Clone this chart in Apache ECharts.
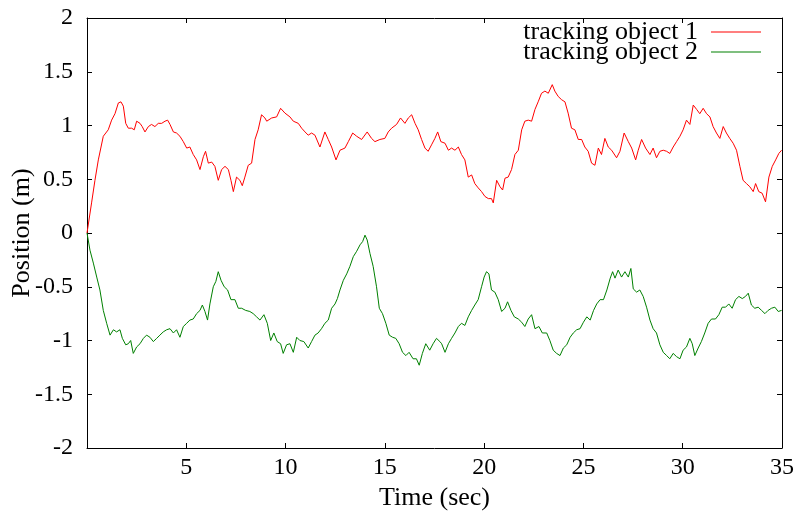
<!DOCTYPE html>
<html>
<head>
<meta charset="utf-8">
<script src="https://cdn.jsdelivr.net/npm/echarts@6/dist/echarts.min.js"></script>
<style>html,body{margin:0;padding:0;background:#fff}#c{width:796px;height:513px}</style>
</head>
<body>
<div id="c"></div>
<script>
var seriesNames = ['tracking object 1', 'tracking object 2'];
var xTicks = [0, 5, 10, 15, 20, 25, 30, 35];
var yTicks = [-2, -1.5, -1, -0.5, 0, 0.5, 1, 1.5, 2];

var time1 = [0,0.23,0.4,0.57,0.82,1.07,1.24,1.41,1.58,1.71,1.83,1.95,2.08,2.25,2.38,2.5,2.67,2.78,2.92,3.09,3.25,3.42,3.59,3.76,3.93,4.06,4.18,4.35,4.51,4.68,4.85,5.02,5.18,5.35,5.52,5.69,5.86,5.97,6.11,6.28,6.44,6.61,6.78,6.95,7.12,7.25,7.37,7.53,7.7,7.82,7.95,8.12,8.29,8.46,8.62,8.79,8.96,
 9.05,9.3,9.55,9.75,9.97,10.22,10.39,10.64,10.81,10.98,11.14,11.31,11.48,11.73,11.98,12.15,12.32,12.54,12.74,12.99,13.16,13.38,13.58,13.83,14.11,14.33,14.5,14.75,15.0,15.17,15.34,15.59,15.79,16.01,16.18,16.35,16.52,16.68,16.85,17.02,17.18,17.35,17.52,17.66,17.82,
 18.03,18.2,18.36,18.53,18.7,18.86,19.03,19.2,19.37,19.53,19.7,19.87,20.04,20.21,20.37,20.46,20.63,20.8,20.93,21.05,21.21,21.38,21.55,21.72,21.89,22.05,22.22,22.39,22.56,22.72,22.89,23.06,23.23,23.43,23.56,23.73,23.9,24.07,24.23,24.4,24.57,24.74,24.91,25.07,25.24,25.41,25.58,25.75,25.91,26.08,
 26.25,26.42,26.67,26.84,27.05,27.26,27.43,27.63,27.76,27.93,28.13,28.35,28.51,28.68,28.85,29.02,29.19,29.35,29.52,29.69,29.86,30.02,30.19,30.36,30.53,30.7,30.86,31.03,31.2,31.37,31.53,31.7,31.87,32.04,32.2,32.37,32.54,32.71,32.88,33.04,33.21,33.38,33.55,33.67,33.83,34.0,34.17,34.34,34.51,34.68,34.84,34.98];
var pos1 = [0,0.28,0.49,0.68,0.9,0.96,1.05,1.11,1.21,1.22,1.18,1.02,0.975,0.975,0.96,1.04,1.02,0.99,0.94,0.99,1.01,0.99,1.02,1.02,1.04,1.05,1.01,0.94,0.93,0.9,0.85,0.79,0.8,0.73,0.68,0.59,0.71,0.76,0.65,0.66,0.62,0.49,0.59,0.62,0.59,0.49,0.385,0.52,0.49,0.44,0.52,0.63,0.65,0.87,0.96,1.1,1.07,
 1.04,1.07,1.08,1.16,1.115,1.08,1.04,1.02,0.975,0.94,0.91,0.93,0.91,0.8,0.94,0.87,0.8,0.68,0.77,0.79,0.85,0.93,0.9,0.87,0.94,0.88,0.85,0.87,0.88,0.94,0.975,1.01,1.07,1.02,1.07,1.1,1.02,0.96,0.87,0.79,0.76,0.82,0.88,0.94,0.85,
 0.835,0.77,0.79,0.77,0.8,0.73,0.68,0.52,0.54,0.46,0.42,0.385,0.34,0.32,0.32,0.28,0.49,0.43,0.4,0.51,0.52,0.59,0.73,0.77,0.96,1.04,1.05,1.04,1.15,1.22,1.3,1.32,1.3,1.38,1.32,1.27,1.24,1.22,1.115,0.975,0.96,0.87,0.87,0.8,0.76,0.65,0.63,0.79,0.73,0.88,
 0.8,0.77,0.7,0.76,0.93,0.85,0.79,0.68,0.77,0.87,0.79,0.73,0.79,0.7,0.76,0.77,0.76,0.74,0.8,0.85,0.9,0.96,1.05,1.01,1.19,1.15,1.11,1.16,1.11,1.08,0.99,0.93,0.88,0.99,0.93,0.88,0.835,0.77,0.62,0.49,0.46,0.43,0.385,0.46,0.385,0.37,0.29,0.52,0.62,0.68,0.74,0.77];

var time2 = [0,0.15,0.32,0.49,0.65,0.82,0.99,1.16,1.33,1.49,1.66,1.78,1.95,2.08,2.2,2.33,2.5,2.67,2.84,3.0,3.17,3.34,3.51,3.67,3.84,4.01,4.18,4.35,4.51,4.68,4.85,5.02,5.18,5.35,5.52,5.69,5.81,5.94,6.07,6.19,6.36,6.49,6.61,6.75,6.91,7.08,7.25,7.45,7.62,7.79,7.99,8.2,8.37,8.54,8.71,8.91,
 9.08,9.25,9.41,9.58,9.75,9.88,10.05,10.22,10.39,10.56,10.72,10.92,11.14,11.31,11.48,11.64,11.81,11.98,12.15,12.32,12.49,12.61,12.74,12.91,13.08,13.24,13.41,13.58,13.75,13.88,14.0,14.11,14.25,14.41,14.58,14.72,14.88,15.05,15.22,15.39,15.55,15.72,15.89,16.06,16.22,16.42,16.59,16.73,16.89,17.06,17.26,17.43,17.6,17.77,
 17.86,18.03,18.2,18.36,18.53,18.7,18.86,19.03,19.2,19.37,19.53,19.7,19.87,20.0,20.12,20.24,20.37,20.54,20.71,20.88,21.05,21.18,21.35,21.52,21.72,21.89,22.05,22.22,22.39,22.56,22.76,22.93,23.15,23.31,23.48,23.65,23.82,23.99,24.16,24.33,24.49,24.66,24.83,25.0,25.17,25.34,25.51,25.67,25.84,26.01,
 26.18,26.35,26.47,26.59,26.75,26.92,27.09,27.26,27.39,27.51,27.68,27.84,28.01,28.18,28.35,28.51,28.68,28.85,29.02,29.19,29.35,29.52,29.69,29.86,30.02,30.19,30.36,30.48,30.61,30.78,30.94,31.11,31.28,31.45,31.65,31.82,31.99,32.16,32.32,32.49,32.66,32.83,33.0,33.16,33.3,33.46,33.63,33.8,33.97,34.14,34.3,34.47,34.64,34.81,34.98];
var pos2 = [0,-0.16,-0.28,-0.41,-0.53,-0.72,-0.84,-0.95,-0.9,-0.92,-0.9,-0.98,-1.04,-1.03,-1.0,-1.12,-1.06,-1.03,-0.98,-0.95,-0.97,-1.01,-0.98,-0.95,-0.92,-0.9,-0.89,-0.93,-0.9,-0.97,-0.87,-0.84,-0.81,-0.8,-0.75,-0.72,-0.67,-0.73,-0.81,-0.66,-0.5,-0.45,-0.36,-0.44,-0.5,-0.53,-0.62,-0.62,-0.7,-0.7,-0.72,-0.73,-0.75,-0.78,-0.81,-0.76,
 -0.84,-1.0,-0.93,-1.01,-1.03,-1.12,-1.04,-1.03,-1.11,-0.97,-1.0,-1.01,-1.07,-1.01,-0.95,-0.93,-0.89,-0.84,-0.81,-0.7,-0.66,-0.61,-0.53,-0.44,-0.38,-0.31,-0.22,-0.17,-0.11,-0.08,-0.02,-0.065,-0.19,-0.31,-0.5,-0.7,-0.75,-0.84,-0.95,-0.97,-0.98,-1.03,-1.11,-1.14,-1.11,-1.17,-1.17,-1.23,-1.12,-1.03,-1.09,-1.03,-0.98,-1.01,
 -1.03,-1.11,-1.03,-0.98,-0.93,-0.87,-0.84,-0.86,-0.78,-0.72,-0.67,-0.62,-0.5,-0.41,-0.36,-0.38,-0.53,-0.55,-0.62,-0.73,-0.7,-0.64,-0.72,-0.78,-0.8,-0.83,-0.87,-0.8,-0.76,-0.89,-0.87,-0.93,-0.93,-1.0,-1.09,-1.12,-1.14,-1.07,-1.04,-0.97,-0.93,-0.9,-0.89,-0.83,-0.78,-0.81,-0.72,-0.66,-0.62,-0.62,
 -0.53,-0.42,-0.36,-0.42,-0.345,-0.41,-0.36,-0.41,-0.33,-0.52,-0.55,-0.53,-0.59,-0.69,-0.81,-0.89,-0.93,-1.04,-1.11,-1.14,-1.17,-1.12,-1.15,-1.17,-1.09,-1.06,-0.98,-1.03,-1.14,-1.07,-1.01,-0.93,-0.84,-0.8,-0.8,-0.76,-0.69,-0.69,-0.66,-0.7,-0.62,-0.59,-0.61,-0.59,-0.56,-0.67,-0.7,-0.69,-0.72,-0.75,-0.72,-0.7,-0.69,-0.73,-0.72];

function pairs(t, v) { return t.map(function (x, i) { return [x, v[i]]; }); }

var FONT = 'Liberation Serif';
var chart = echarts.init(document.getElementById('c'), null, {renderer: 'canvas'});
var axisLineStyle = {color: '#000', width: 1};
var tickStyle = {show: true, inside: true, length: 5, lineStyle: {color: '#000', width: 1}};
chart.setOption({
  animation: false,
  backgroundColor: '#fff',
  grid: {left: 87, right: 14, top: 18, bottom: 65, containLabel: false, outerBoundsMode: 'none'},
  legend: {
    data: seriesNames,
    orient: 'vertical',
    right: 30,
    top: 14,
    align: 'right',
    icon: 'rect',
    itemWidth: 50,
    itemHeight: 1,
    itemGap: -6,
    textStyle: {fontFamily: FONT, fontSize: 26, color: '#000', padding: [0, 8, 0, 0]}
  },
  xAxis: [{
    type: 'value', min: xTicks[0], max: xTicks[xTicks.length - 1], interval: 5,
    position: 'bottom',
    name: 'Time (sec)', nameLocation: 'middle', nameGap: 37, nameMoveOverlap: false,
    nameTextStyle: {fontFamily: FONT, fontSize: 26, color: '#000'},
    axisLine: {show: true, onZero: false, lineStyle: axisLineStyle},
    axisTick: tickStyle,
    splitLine: {show: false},
    axisLabel: {fontFamily: FONT, fontSize: 24, color: '#000', margin: 8,
      formatter: function (v) { return v === 0 ? '' : String(v); }}
  }, {
    type: 'value', min: xTicks[0], max: xTicks[xTicks.length - 1], interval: 5,
    position: 'top',
    axisLine: {show: true, onZero: false, lineStyle: axisLineStyle},
    axisTick: tickStyle,
    splitLine: {show: false},
    axisLabel: {show: false}
  }],
  yAxis: [{
    type: 'value', min: yTicks[0], max: yTicks[yTicks.length - 1], interval: 0.5,
    position: 'left',
    name: 'Position (m)', nameLocation: 'middle', nameGap: 52, nameRotate: 90, nameMoveOverlap: false,
    nameTextStyle: {fontFamily: FONT, fontSize: 26, color: '#000'},
    axisLine: {show: true, onZero: false, lineStyle: axisLineStyle},
    axisTick: tickStyle,
    splitLine: {show: false},
    axisLabel: {fontFamily: FONT, fontSize: 24, color: '#000', margin: 14}
  }, {
    type: 'value', min: yTicks[0], max: yTicks[yTicks.length - 1], interval: 0.5,
    position: 'right',
    axisLine: {show: true, onZero: false, lineStyle: axisLineStyle},
    axisTick: tickStyle,
    splitLine: {show: false},
    axisLabel: {show: false}
  }],
  series: [{
    name: seriesNames[0], type: 'line', xAxisIndex: 0, yAxisIndex: 0,
    data: pairs(time1, pos1), symbol: 'none', smooth: false,
    lineStyle: {color: '#ff0000', width: 1}, itemStyle: {color: '#ff0000'}
  }, {
    name: seriesNames[1], type: 'line', xAxisIndex: 0, yAxisIndex: 0,
    data: pairs(time2, pos2), symbol: 'none', smooth: false,
    lineStyle: {color: '#008000', width: 1}, itemStyle: {color: '#008000'}
  }]
});
</script>
</body>
</html>
